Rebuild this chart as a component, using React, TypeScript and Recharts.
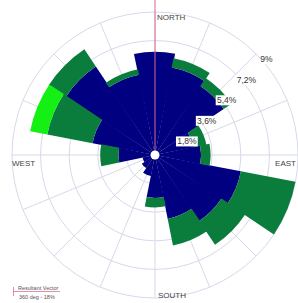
import { PolarAngleAxis, PolarGrid, PolarRadiusAxis, RadialBar, RadialBarChart } from "recharts";

// wind rose, % of time per direction and speed class
const directions = ["N", "NNE", "NE", "ENE", "E", "ESE", "SE", "SSE", "S", "SSW", "SW", "WSW", "W", "WNW", "NW", "NNW"];
const classLow = [6.5, 5.6, 5.2, 2.5, 2.9, 5.5, 5.0, 4.1, 2.7, 1.35, 1.0, 0.8, 2.3, 4.0, 6.7, 5.15];
const classMid = [0, 0.6, 0.6, 0.8, 0.6, 3.5, 1.8, 1.7, 0.6, 0, 0, 0, 1.15, 2.9, 1.3, 0.35];
const classHigh = [0, 0, 0, 0, 0, 0, 0, 0, 0, 0, 0, 0, 0, 1.1, 0, 0];
const ringTicks = [1.8, 3.6, 5.4, 7.2, 9];
const compass = ["NORTH", "EAST", "SOUTH", "WEST"];
const vectorDeg = 360;
const vectorPct = 18;

const W = 298;
const H = 303;
const CX = 155;
const CY = 155;
const R = 143;
const MAX = 9;
const FONT = "'Liberation Sans', Arial, sans-serif";

const data = directions.map((dir, i) => ({ dir, low: classLow[i], mid: classMid[i], high: classHigh[i] }));
const band = 360 / directions.length;
// recharts puts the first band one step counter-clockwise, so start one band further round
const start = 90 + band / 2 - band;
const gridAngles = directions.map((_, i) => 90 - i * band);
const gridRadii = ringTicks.map((t) => (t / MAX) * R);

function RingTick(props: any) {
  const { x, y, payload } = props;
  if (!payload || payload.value === 0) return null;
  const label = `${String(payload.value).replace(".", ",")}%`;
  const w = label.length * 4.7 + 3;
  return (
    <g>
      <rect x={x + 12 - w / 2} y={y + 2} width={w} height={10} fill="#fff" />
      <text x={x + 12} y={y + 7} textAnchor="middle" dominantBaseline="central" fontSize={8.5} fontFamily={FONT} fill="#333">
        {label}
      </text>
    </g>
  );
}

export default function App() {
  const vLen = (vectorPct / MAX) * R;
  const vRad = (vectorDeg * Math.PI) / 180;
  const vx = CX + Math.sin(vRad) * vLen;
  const vy = CY - Math.cos(vRad) * vLen;

  return (
    <div style={{ position: "absolute", left: 0, top: 0, width: W, height: H, background: "#fff" }}>
      <RadialBarChart
        width={W}
        height={H}
        data={data}
        layout="centric"
        cx={CX}
        cy={CY}
        innerRadius={0}
        outerRadius={R}
        startAngle={start}
        endAngle={start - 360}
        barCategoryGap="0%"
        barGap={0}
        margin={{ top: 0, right: 0, bottom: 0, left: 0 }}
      >
        <PolarGrid gridType="circle" polarAngles={gridAngles} polarRadius={gridRadii} stroke="#d8d8ec" />
        <PolarAngleAxis type="category" dataKey="dir" tick={false} axisLine={false} />
        <RadialBar dataKey="low" stackId="a" fill="#000080" isAnimationActive={false} />
        <RadialBar dataKey="mid" stackId="a" fill="#0a7d3c" isAnimationActive={false} />
        <RadialBar dataKey="high" stackId="a" fill="#14f014" isAnimationActive={false} />
        <PolarRadiusAxis type="number" domain={[0, MAX]} ticks={ringTicks} angle={46} axisLine={false} tick={<RingTick />} />
      </RadialBarChart>
      <svg width={W} height={H} style={{ position: "absolute", left: 0, top: 0, pointerEvents: "none" }}>
        <line x1={CX} y1={CY} x2={vx} y2={vy} stroke="#d9678c" strokeWidth={1} />
        <circle cx={CX} cy={CY} r={4.5} fill="#fff" />
        <g fontFamily={FONT} fontSize={8} fill="#444">
          <text x={CX + 2} y={CY - R + 7.5}>{compass[0]}</text>
          <text x={CX + R - 2} y={CY + 11} textAnchor="end">{compass[1]}</text>
          <text x={CX + 3} y={CY + R}>{compass[2]}</text>
          <text x={CX - R} y={CY + 11}>{compass[3]}</text>
        </g>
        <line x1={13} y1={291.5} x2={60} y2={291.5} stroke="#e07090" strokeWidth={0.8} />
        <line x1={13.5} y1={287} x2={13.5} y2={296} stroke="#e07090" strokeWidth={0.8} />
        <g fontFamily={FONT} fontSize={5.5} fill="#555">
          <text x={18} y={289.5}>Resultant Vector</text>
          <text x={19} y={299}>{`${vectorDeg} deg - ${vectorPct}%`}</text>
        </g>
      </svg>
    </div>
  );
}
